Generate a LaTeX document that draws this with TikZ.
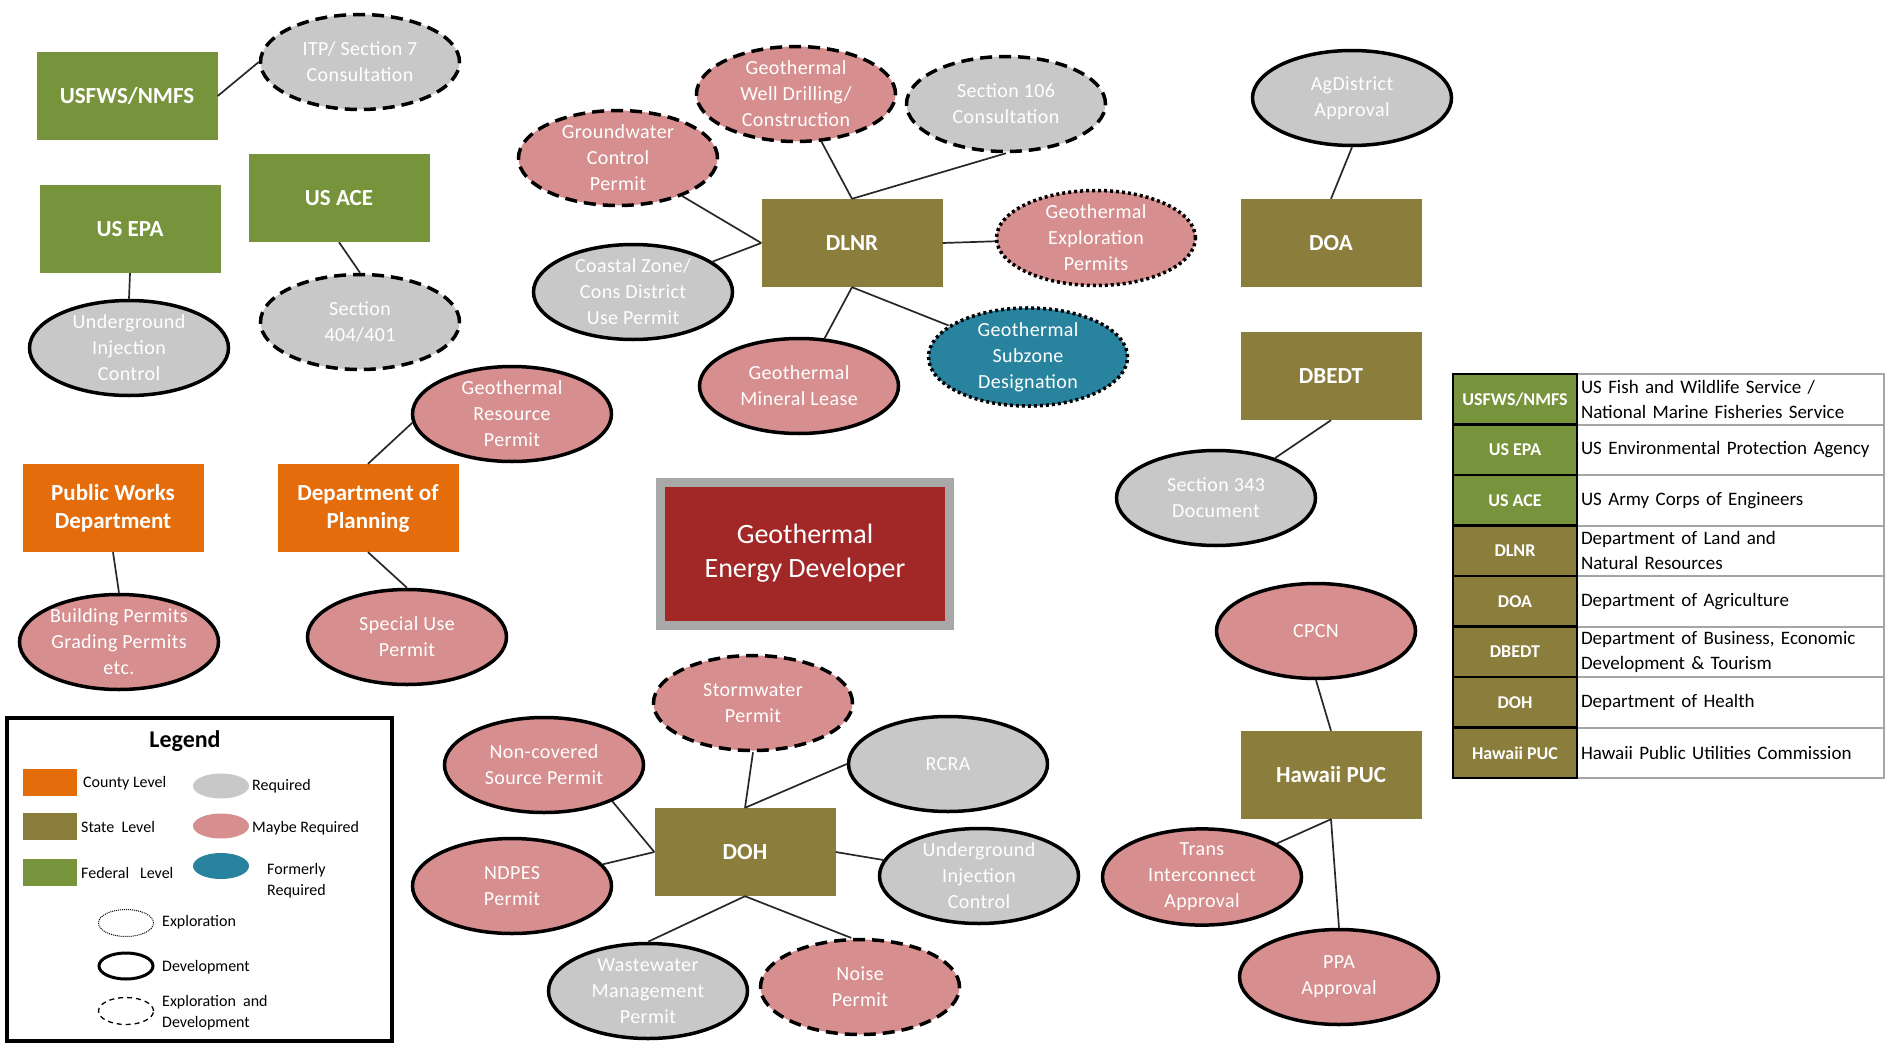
\documentclass[tikz,border=0pt]{standalone}
\usepackage{fontspec}
\setmainfont{Carlito}
\newfontfamily\ellfont[LetterSpace=2]{Carlito}
\usetikzlibrary{shapes.geometric}
\definecolor{fedgreen}{RGB}{119,147,60}
\definecolor{stateolive}{RGB}{139,125,60}
\definecolor{countyorange}{RGB}{228,108,10}
\definecolor{reqgray}{RGB}{200,200,200}
\definecolor{maybepink}{RGB}{214,142,142}
\definecolor{formteal}{RGB}{40,132,158}
\definecolor{devred}{RGB}{162,40,40}
\definecolor{devgray}{RGB}{168,168,168}
\definecolor{tablegray}{RGB}{165,165,165}
\definecolor{linkgray}{RGB}{40,40,40}
\begin{document}
\begin{tikzpicture}[x=1pt,y=-1pt,
  box/.style={rectangle, minimum width=181pt, minimum height=88pt, inner sep=2pt, text=white, align=center, font=\fontsize{23}{28}\selectfont\bfseries},
  fed/.style={box, fill=fedgreen},
  state/.style={box, fill=stateolive},
  county/.style={box, fill=countyorange},
  ell/.style={ellipse, minimum width=199pt, minimum height=95pt, inner sep=0pt, text=white, align=center, font=\ellfont\fontsize{20}{26}\selectfont},
  req/.style={ell, fill=reqgray},
  maybe/.style={ell, fill=maybepink},
  former/.style={ell, fill=formteal},
  dev/.style={draw=black, line width=3.5pt},
  expdev/.style={draw=black, line width=3.5pt, dash pattern=on 12pt off 7pt},
  explo/.style={draw=black, line width=3.5pt, dash pattern=on 3pt off 3pt},
  link/.style={draw=linkgray, line width=1.7pt},
  legtext/.style={anchor=west, inner sep=0pt, align=left, font=\fontsize{16}{21}\selectfont},
  swatch/.style={rectangle, minimum width=54pt, minimum height=27pt, inner sep=0pt},
  legell/.style={ellipse, minimum width=56pt, minimum height=25pt, inner sep=0pt},
  lcell/.style={rectangle, draw=black, line width=2.5pt, minimum width=124pt, minimum height=50.5pt, inner sep=0pt, text=white, font=\fontsize{18}{22}\selectfont\bfseries},
  rcell/.style={rectangle, draw=tablegray, line width=2pt, fill=white, minimum width=307pt, minimum height=50.5pt, inner xsep=4pt, inner ysep=0pt, text width=299pt, align=left, font=\fontsize{19}{25}\selectfont}
]
\useasboundingbox (0,0) rectangle (1895,1044);
\fill[white] (0,0) rectangle (1895,1044);

% Federal
\node[fed] (usfws) at (127,96) {USFWS/NMFS};
\node[fed] (epa) at (130,229) {US EPA};
\node[fed] (ace) at (339,198) {US ACE};
\node[req, expdev] (itp) at (360,62) {ITP/ Section 7\\Consultation};
\node[req, dev] (uicl) at (129,348) {Underground\\Injection\\Control};
\node[req, expdev] (s404) at (360,322) {Section\\404/401};

% County
\node[county] (pw) at (113,508) {Public Works\\Department};
\node[county] (plan) at (368,508) {Department of\\Planning};
\node[maybe, dev] (resource) at (512,414) {Geothermal\\Resource\\Permit};
\node[maybe, dev] (bldg) at (119,642) {Building Permits\\Grading Permits\\etc.};
\node[maybe, dev] (special) at (407,637) {Special Use\\Permit};

% DLNR
\node[state] (dlnr) at (852,243) {DLNR};
\node[maybe, expdev] (well) at (796,94) {Geothermal\\Well Drilling/\\Construction};
\node[maybe, expdev] (ground) at (618,158) {Groundwater\\Control\\Permit};
\node[req, dev] (coastal) at (633,292) {Coastal Zone/\\Cons District\\Use Permit};
\node[maybe, dev] (mineral) at (799,386) {Geothermal\\Mineral Lease};
\node[req, expdev] (s106) at (1006,104) {Section 106\\Consultation};
\node[maybe, explo] (explp) at (1096,238) {Geothermal\\Exploration\\Permits};
\node[former, explo] (subzone) at (1028,357) {Geothermal\\Subzone\\Designation};

% DOA, DBEDT
\node[state] (doa) at (1331,243) {DOA};
\node[req, dev] (ag) at (1352,98) {AgDistrict\\Approval};
\node[state] (dbedt) at (1331,376) {DBEDT};
\node[req, dev] (s343) at (1216,498) {Section 343\\Document};

% Developer
\node[rectangle, fill=devred, draw=devgray, line width=9pt, minimum width=289pt, minimum height=143pt, text=white, align=center, font=\fontsize{28}{34}\selectfont] (developer) at (805,553.5) {Geothermal\\Energy Developer};

% DOH
\node[state] (doh) at (745,852) {DOH};
\node[maybe, expdev] (storm) at (753,703) {Stormwater\\Permit};
\node[maybe, dev] (noncov) at (544,765) {Non-covered\\Source Permit};
\node[req, dev] (rcra) at (948,764) {RCRA};
\node[maybe, dev] (ndpes) at (512,886) {NDPES\\Permit};
\node[req, dev] (uicr) at (979,876) {Underground\\Injection\\Control};
\node[req, dev] (waste) at (648,991) {Wastewater\\Management\\Permit};
\node[maybe, expdev] (noise) at (860,987) {Noise\\Permit};

% PUC
\node[state] (puc) at (1331,775) {Hawaii PUC};
\node[maybe, dev] (cpcn) at (1316,631) {CPCN};
\node[maybe, dev] (trans) at (1202,877) {Trans\\Interconnect\\Approval};
\node[maybe, dev] (ppa) at (1339,977) {PPA\\Approval};

% Connectors
\draw[link] (usfws.east) -- (itp.west);
\draw[link] (epa.south) -- (uicl.north);
\draw[link] (ace.south) -- (s404.north);
\draw[link] (pw.south) -- (bldg.north);
\draw[link] (plan.north) -- (resource.185);
\draw[link] (plan.south) -- (special.north);
\draw[link] (dlnr.north) -- (well);
\draw[link] (dlnr.north) -- (s106.south);
\draw[link] (dlnr.west) -- (ground);
\draw[link] (dlnr.west) -- (coastal);
\draw[link] (dlnr.east) -- (explp);
\draw[link] (dlnr.south) -- (mineral);
\draw[link] (dlnr.south) -- (subzone);
\draw[link] (doa.north) -- (ag.south);
\draw[link] (dbedt.south) -- (s343);
\draw[link] (doh.north) -- (storm.south);
\draw[link] (doh.north) -- (rcra.west);
\draw[link] (doh.west) -- (noncov.-28);
\draw[link] (doh.west) -- (ndpes);
\draw[link] (doh.east) -- (uicr);
\draw[link] (doh.south) -- (waste.north);
\draw[link] (doh.south) -- (noise.100);
\draw[link] (puc.north) -- (cpcn.south);
\draw[link] (puc.south) -- (trans);
\draw[link] (puc.south) -- (ppa.north);

% Legend
\draw[line width=4pt] (7,718) rectangle (392,1041);
\node[font=\fontsize{24}{28}\selectfont\bfseries] (legtitle) at (185,741) {Legend};
\node[swatch, fill=countyorange] (sw1) at (50,782.5) {};
\node[legtext] (sw1t) at (83,783) {County Level};
\node[swatch, fill=stateolive] (sw2) at (50,826.5) {};
\node[legtext] (sw2t) at (81,827) {State~~Level};
\node[swatch, fill=fedgreen] (sw3) at (50,872.5) {};
\node[legtext] (sw3t) at (81,873) {Federal~~~Level};
\node[legell, fill=reqgray] (le1) at (221,786) {};
\node[legtext] (le1t) at (252,786) {Required};
\node[legell, fill=maybepink] (le2) at (221,826) {};
\node[legtext] (le2t) at (252,828) {Maybe Required};
\node[legell, fill=formteal, minimum height=26pt] (le3) at (221,866) {};
\node[legtext] (le3t) at (267,881) {Formerly\\Required};
\node[legell, draw=black, line width=1pt, dash pattern=on 1pt off 1pt, minimum width=55pt, minimum height=27pt] (le4) at (126,923) {};
\node[legtext] (le4t) at (162,922) {Exploration};
\node[legell, draw=black, line width=3pt, minimum width=54pt, minimum height=26pt] (le5) at (126,966) {};
\node[legtext] (le5t) at (162,967) {Development};
\node[legell, draw=black, line width=1.3pt, dash pattern=on 5pt off 4pt, minimum width=55pt, minimum height=27pt] (le6) at (126,1011) {};
\node[legtext] (le6t) at (162,1013) {Exploration~~and\\Development};

% Table
\node[rcell] (r1) at (1730.5,399.25) {US Fish and Wildlife Service /\\National Marine Fisheries Service};
\node[rcell] (r2) at (1730.5,449.75) {US Environmental Protection Agency};
\node[rcell] (r3) at (1730.5,500.25) {US Army Corps of Engineers};
\node[rcell] (r4) at (1730.5,550.75) {Department of Land and\\Natural Resources};
\node[rcell] (r5) at (1730.5,601.25) {Department of Agriculture};
\node[rcell] (r6) at (1730.5,651.75) {Department of Business, Economic\\Development \& Tourism};
\node[rcell] (r7) at (1730.5,702.25) {Department of Health};
\node[rcell] (r8) at (1730.5,752.75) {Hawaii Public Utilities Commission};
\node[lcell, fill=fedgreen] (l1) at (1515,399.25) {USFWS/NMFS};
\node[lcell, fill=fedgreen] (l2) at (1515,449.75) {US EPA};
\node[lcell, fill=fedgreen] (l3) at (1515,500.25) {US ACE};
\node[lcell, fill=stateolive] (l4) at (1515,550.75) {DLNR};
\node[lcell, fill=stateolive] (l5) at (1515,601.25) {DOA};
\node[lcell, fill=stateolive] (l6) at (1515,651.75) {DBEDT};
\node[lcell, fill=stateolive] (l7) at (1515,702.25) {DOH};
\node[lcell, fill=stateolive] (l8) at (1515,752.75) {Hawaii PUC};
\end{tikzpicture}
\end{document}
